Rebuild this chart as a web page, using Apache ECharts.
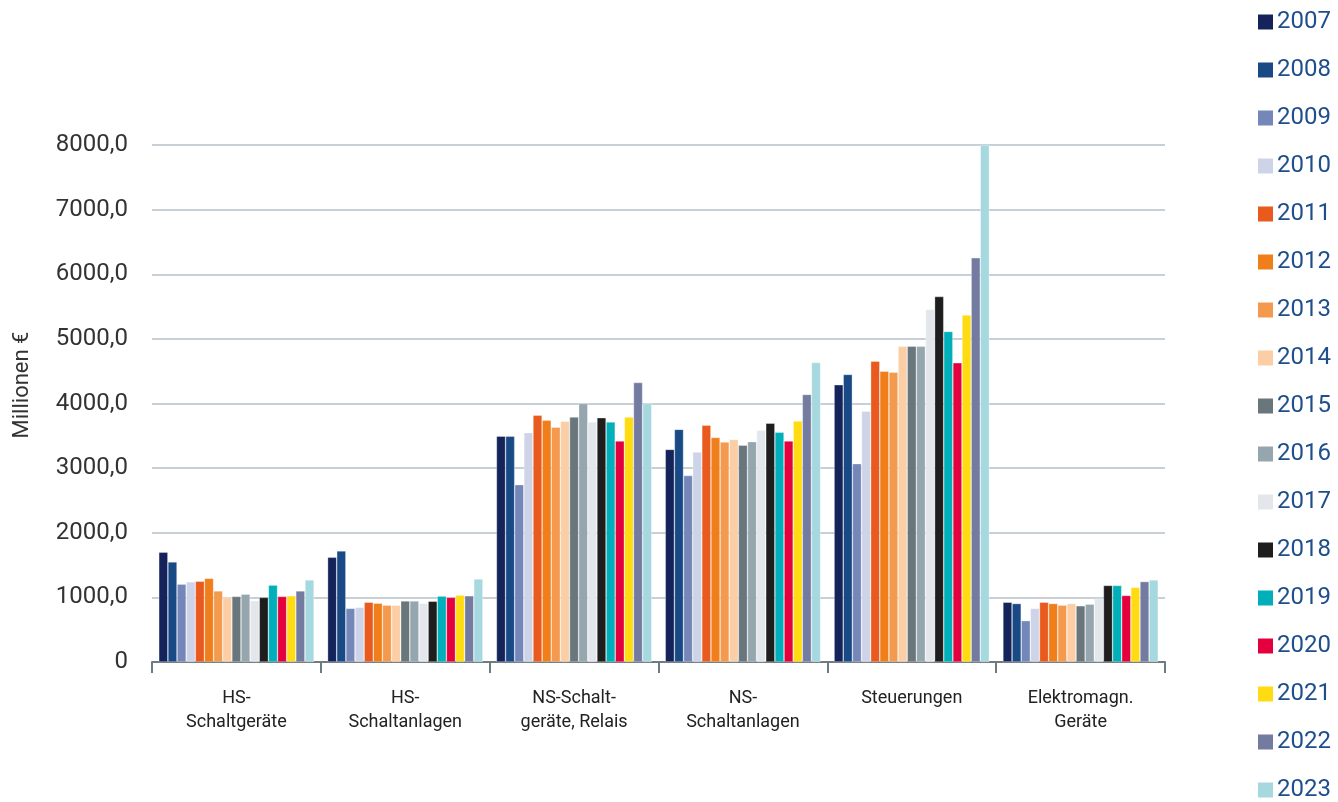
<!DOCTYPE html>
<html>
<head>
<meta charset="utf-8">
<script src="https://cdn.jsdelivr.net/npm/echarts@6/dist/echarts.min.js"></script>
<style>
  html, body { margin: 0; padding: 0; background: #fff; }
  #chart { width: 1338px; height: 802px; }
</style>
</head>
<body>
<div id="chart"></div>
<script>
// Product groups (x axis)
const categories = [
  'HS-\nSchaltgeräte',
  'HS-\nSchaltanlagen',
  'NS-Schalt-\ngeräte, Relais',
  'NS-\nSchaltanlagen',
  'Steuerungen',
  'Elektromagn.\nGeräte'
];

const years = ['2007','2008','2009','2010','2011','2012','2013','2014','2015','2016','2017','2018','2019','2020','2021','2022','2023'];

const yearColors = ['#14245a','#1a4a86','#7587b8','#ced4e8','#e95a1e','#f07e1a','#f49a4e','#fbcea6',
                    '#69767b','#96a6ae','#e3e7eb','#1e1e1e','#00afb9','#e4003c','#ffdb12','#747ba0','#a6d8df'];

// Sales in million €, one array per product group, ordered by year 2007..2023
const hsSchaltgeraete   = [1700, 1550, 1205, 1240, 1250, 1295, 1100, 1000, 1015, 1050, 950, 1000, 1190, 1015, 1025, 1100, 1270];
const hsSchaltanlagen   = [1620, 1720, 830, 845, 925, 910, 880, 880, 945, 945, 910, 940, 1020, 1000, 1035, 1025, 1285];
const nsSchaltgeraete   = [3495, 3495, 2745, 3550, 3820, 3740, 3635, 3725, 3790, 4000, 3715, 3780, 3715, 3420, 3790, 4325, 4000];
const nsSchaltanlagen   = [3290, 3600, 2885, 3250, 3665, 3475, 3405, 3445, 3355, 3410, 3585, 3695, 3555, 3420, 3730, 4140, 4635];
const steuerungen       = [4290, 4450, 3070, 3880, 4655, 4500, 4485, 4885, 4885, 4885, 5455, 5655, 5115, 4630, 5370, 6255, 8000];
const elektromagnGeraete= [925, 905, 640, 830, 925, 905, 880, 905, 870, 895, 980, 1185, 1185, 1030, 1155, 1245, 1270];

const groups = [hsSchaltgeraete, hsSchaltanlagen, nsSchaltgeraete, nsSchaltanlagen, steuerungen, elektromagnGeraete];

const yTicks = { min: 0, max: 8000, interval: 1000 };
const yTitle = 'Millionen €';

const series = years.map((y, i) => ({
  name: y,
  type: 'bar',
  barGap: '0%',
  barCategoryGap: '8%',
  data: groups.map(g => g[i]),
  itemStyle: { color: yearColors[i], borderColor: 'rgba(255,255,255,0.55)', borderWidth: 0.6 }
}));

const chart = echarts.init(document.getElementById('chart'), null, { renderer: 'canvas' });
chart.setOption({
  animation: false,
  textStyle: { fontFamily: 'Roboto, "Noto Sans", sans-serif' },
  grid: { left: 152, right: 173, top: 145, bottom: 140, containLabel: false },
  legend: {
    orient: 'vertical',
    left: 1258,
    top: 10,
    padding: 0,
    icon: 'rect',
    itemWidth: 15,
    itemHeight: 15,
    itemGap: 24,
    data: years,
    itemStyle: { borderWidth: 0 },
    textStyle: { fontSize: 24, color: '#1f4e8c', padding: [0, 0, 0, -1] }
  },
  graphic: [{
    type: 'text',
    x: 22,
    y: 385,
    rotation: Math.PI / 2,
    style: {
      text: yTitle,
      fontSize: 22,
      fontFamily: 'Roboto, "Noto Sans", sans-serif',
      fill: '#333',
      align: 'center',
      verticalAlign: 'middle'
    }
  }],
  xAxis: {
    type: 'category',
    data: categories,
    axisLine: { show: true, lineStyle: { color: '#6e7b80', width: 2 } },
    axisTick: { show: true, length: 11, lineStyle: { color: '#6e7b80', width: 2 } },
    axisLabel: { interval: 0, fontSize: 18, lineHeight: 24, color: '#222', margin: 24 }
  },
  yAxis: {
    type: 'value',
    min: yTicks.min,
    max: yTicks.max,
    interval: yTicks.interval,
    axisLine: { show: false },
    axisTick: { show: false },
    splitLine: { lineStyle: { color: '#b4c0c8', width: 1.5 } },
    axisLabel: {
      fontSize: 24,
      color: '#333',
      margin: 24,
      formatter: v => v === 0 ? '0' : v.toFixed(1).replace('.', ',')
    }
  },
  series: series
});
</script>
</body>
</html>
